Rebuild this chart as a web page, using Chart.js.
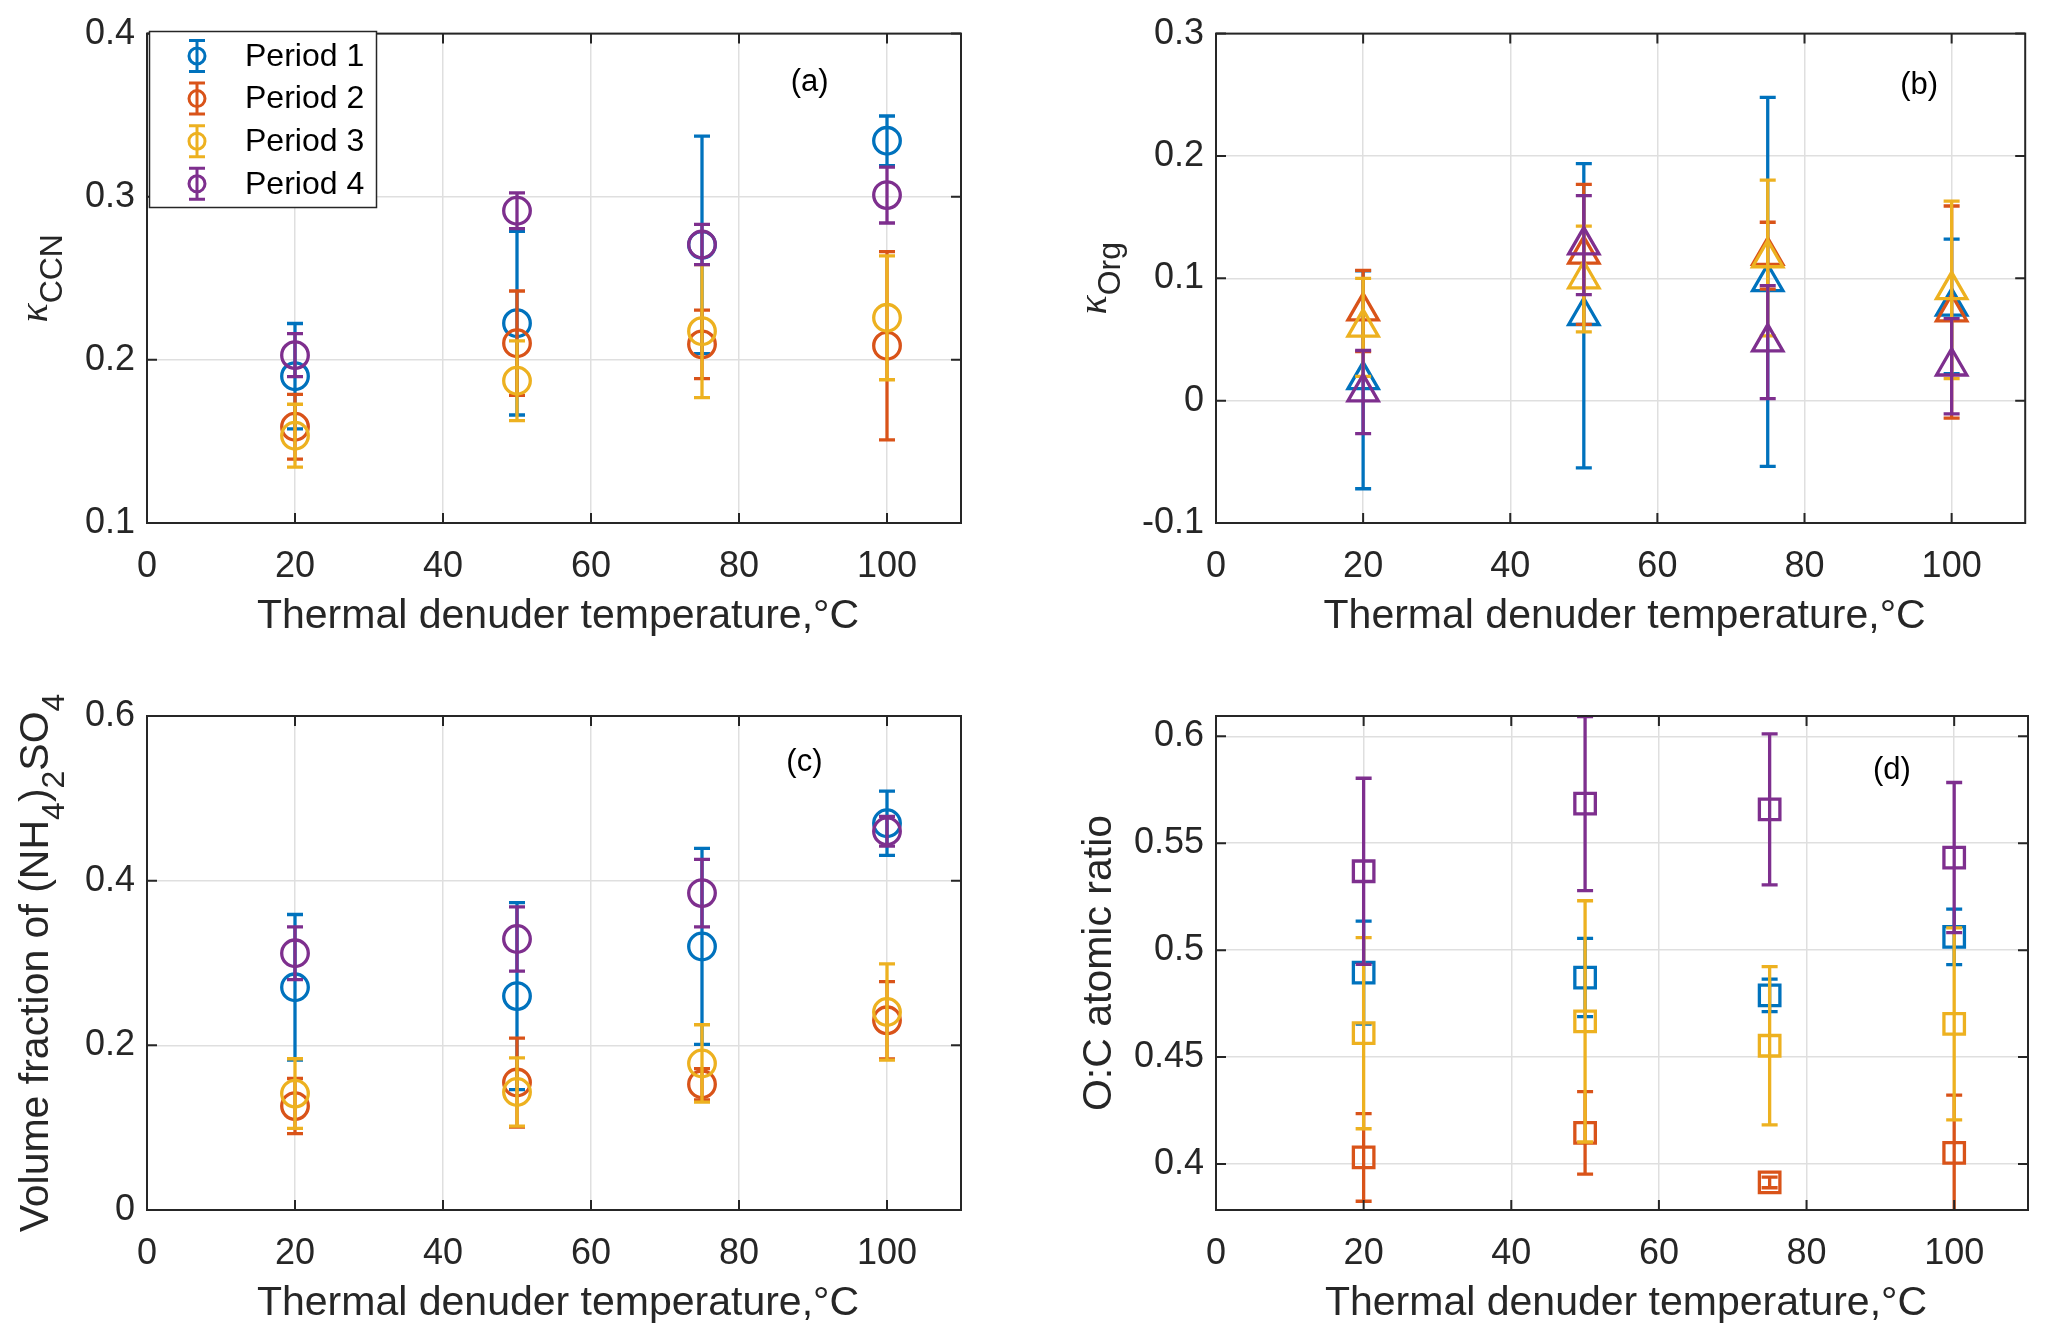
<!DOCTYPE html>
<html><head><meta charset="utf-8">
<script src="https://cdn.jsdelivr.net/npm/chart.js@4.4.1/dist/chart.umd.min.js"></script>
<style>
html,body{margin:0;padding:0;background:#fff;width:2046px;height:1341px;overflow:hidden}
.p{position:absolute}
canvas{display:block}
</style></head><body>
<div class="p" style="left:0;top:0"><canvas id="ca" width="1023" height="670" style="width:1023px;height:670px"></canvas></div>
<div class="p" style="left:1023px;top:0"><canvas id="cb" width="1023" height="670" style="width:1023px;height:670px"></canvas></div>
<div class="p" style="left:0;top:670px"><canvas id="cc" width="1023" height="671" style="width:1023px;height:671px"></canvas></div>
<div class="p" style="left:1023px;top:670px"><canvas id="cd" width="1023" height="671" style="width:1023px;height:671px"></canvas></div>
<script>
// ---------------- DATA ----------------
const temperatures = [20, 50, 75, 100];
const seriesNames = ['Period 1', 'Period 2', 'Period 3', 'Period 4'];
const seriesColors = ['#0072BD', '#D95319', '#EDB120', '#7E2F8E'];
const xTicks = [0, 20, 40, 60, 80, 100];
const xTickLabels = ['0', '20', '40', '60', '80', '100'];

// (a) kappa CCN
const kappaCCN = [
  [0.190, 0.2225, 0.2705, 0.3343],
  [0.159, 0.2102, 0.2095, 0.2087],
  [0.1535, 0.1872, 0.2176, 0.2258],
  [0.2029, 0.2914, 0.2707, 0.3010]
];
const kappaCCNErr = [
  [0.0323, 0.0563, 0.0667, 0.0152],
  [0.0198, 0.0320, 0.0210, 0.0577],
  [0.0193, 0.0245, 0.0408, 0.0380],
  [0.0132, 0.0110, 0.0123, 0.0171]
];
const kappaCCNTicks = [0.1, 0.2, 0.3, 0.4];
const kappaCCNTickLabels = ['0.1', '0.2', '0.3', '0.4'];

// (b) kappa Org
const kappaOrg = [
  [0.0170, 0.0694, 0.0970, 0.0770],
  [0.0732, 0.1196, 0.1185, 0.0724],
  [0.0599, 0.0994, 0.1166, 0.0905],
  [0.0070, 0.1271, 0.0478, 0.0281]
];
const kappaOrgErr = [
  [0.0890, 0.1244, 0.1508, 0.0550],
  [0.0332, 0.0572, 0.0273, 0.0867],
  [0.0401, 0.0432, 0.0636, 0.0725],
  [0.0340, 0.0405, 0.0462, 0.0389]
];
const kappaOrgTicks = [-0.1, 0, 0.1, 0.2, 0.3];
const kappaOrgTickLabels = ['-0.1', '0', '0.1', '0.2', '0.3'];

// (c) volume fraction of ammonium sulfate
const volFracAS = [
  [0.2705, 0.2598, 0.3201, 0.4698],
  [0.1262, 0.1548, 0.1527, 0.2304],
  [0.1414, 0.1433, 0.1780, 0.2405],
  [0.3118, 0.3292, 0.3849, 0.4600]
];
const volFracASErr = [
  [0.0884, 0.1135, 0.1190, 0.0390],
  [0.0335, 0.0540, 0.0190, 0.0470],
  [0.0423, 0.0415, 0.0470, 0.0584],
  [0.0320, 0.0390, 0.0410, 0.0180]
];
const volFracTicks = [0, 0.2, 0.4, 0.6];
const volFracTickLabels = ['0', '0.2', '0.4', '0.6'];

// (d) O:C atomic ratio
const ocRatio = [
  [0.4895, 0.4872, 0.4789, 0.5062],
  [0.4031, 0.4146, 0.3914, 0.4052],
  [0.4612, 0.4667, 0.4553, 0.4655],
  [0.5369, 0.5685, 0.5658, 0.5433]
];
const ocRatioErr = [
  [0.0241, 0.0183, 0.0076, 0.0130],
  [0.0205, 0.0193, 0.0025, 0.0270],
  [0.0447, 0.0564, 0.0370, 0.0449],
  [0.0435, 0.0407, 0.0353, 0.0351]
];
const ocTicks = [0.4, 0.45, 0.5, 0.55, 0.6];
const ocTickLabels = ['0.4', '0.45', '0.5', '0.55', '0.6'];

// ---------------- STYLE ----------------
const SANS = '"Liberation Sans", Arial, Helvetica, sans-serif';
const AXIS_COLOR = '#262626';
const GRID_COLOR = '#dfdfdf';
const LINE_W = 3.3;
const CAP_HALF = 8;
const TITLE_FONT = '41px ' + SANS;
const SUB_FONT = '32px ' + SANS;
const KAPPA_FONT = 'italic 40px "Liberation Serif", "DejaVu Serif", serif';
const X_TITLE = 'Thermal denuder temperature,\u00B0C';

// ---------------- PLUGINS ----------------
const errorBarPlugin = {
  id: 'errbars',
  beforeDatasetDraw(chart, args) {
    const ds = chart.data.datasets[args.index];
    if (!ds.errors) return;
    const ctx = chart.ctx, a = chart.chartArea;
    const xs = chart.scales.x, ys = chart.scales.y;
    ctx.save();
    ctx.beginPath();
    ctx.rect(a.left, a.top, a.right - a.left, a.bottom - a.top);
    ctx.clip();
    ctx.strokeStyle = ds.pointBorderColor;
    ctx.lineWidth = LINE_W;
    ds.data.forEach((p, i) => {
      const e = ds.errors[i];
      const px = xs.getPixelForValue(p.x);
      const yt = ys.getPixelForValue(p.y + e);
      const yb = ys.getPixelForValue(p.y - e);
      ctx.beginPath();
      ctx.moveTo(px, yt); ctx.lineTo(px, yb);
      ctx.moveTo(px - CAP_HALF, yt); ctx.lineTo(px + CAP_HALF, yt);
      ctx.moveTo(px - CAP_HALF, yb); ctx.lineTo(px + CAP_HALF, yb);
      ctx.stroke();
    });
    ctx.restore();
  }
};

function drawRich(ctx, segs, x, y) {
  ctx.save();
  ctx.translate(x, y);
  ctx.rotate(-Math.PI / 2);
  let total = 0;
  const w = segs.map(s => { ctx.font = s.font; const m = ctx.measureText(s.t).width; total += m; return m; });
  let cx = -total / 2;
  ctx.textBaseline = 'alphabetic';
  ctx.textAlign = 'left';
  ctx.fillStyle = AXIS_COLOR;
  segs.forEach((s, i) => { ctx.font = s.font; ctx.fillText(s.t, cx, s.dy || 0); cx += w[i]; });
  ctx.restore();
}

const decorPlugin = {
  id: 'decor',
  afterDatasetsDraw(chart, args, o) {
    const ctx = chart.ctx, a = chart.chartArea;
    const xs = chart.scales.x, ys = chart.scales.y;
    ctx.save();
    ctx.strokeStyle = AXIS_COLOR;
    ctx.lineWidth = 2;
    ctx.strokeRect(a.left, a.top, a.right - a.left, a.bottom - a.top);
    ctx.beginPath();
    xTicks.forEach(v => {
      const px = xs.getPixelForValue(v);
      ctx.moveTo(px, a.bottom); ctx.lineTo(px, a.bottom - 10);
      ctx.moveTo(px, a.top); ctx.lineTo(px, a.top + 10);
    });
    o.yTicks.forEach(v => {
      const py = ys.getPixelForValue(v);
      ctx.moveTo(a.left, py); ctx.lineTo(a.left + 10, py);
      ctx.moveTo(a.right, py); ctx.lineTo(a.right - 10, py);
    });
    ctx.stroke();
    ctx.restore();
  },
  afterDraw(chart, args, o) {
    const ctx = chart.ctx, a = chart.chartArea;
    const xs = chart.scales.x, ys = chart.scales.y;
    ctx.save();
    ctx.font = TITLE_FONT;
    ctx.fillStyle = AXIS_COLOR;
    ctx.textAlign = 'center';
    ctx.textBaseline = 'alphabetic';
    ctx.fillText(X_TITLE, (a.left + a.right) / 2 + 4, a.bottom + 105);
    ctx.restore();
    drawRich(ctx, o.yTitle, o.yTitleX, (a.top + a.bottom) / 2);
    ctx.save();
    ctx.font = '31px ' + SANS;
    ctx.fillStyle = '#000';
    ctx.textAlign = 'left';
    ctx.textBaseline = 'middle';
    ctx.fillText(o.letter, xs.getPixelForValue(o.letterPos[0]), ys.getPixelForValue(o.letterPos[1]));
    ctx.restore();
    if (o.legend) {
      const L = o.legend;
      ctx.save();
      ctx.fillStyle = '#fff';
      ctx.fillRect(L.x, L.y, L.w, L.h);
      ctx.strokeStyle = AXIS_COLOR;
      ctx.lineWidth = 1.5;
      ctx.strokeRect(L.x, L.y, L.w, L.h);
      chart.data.datasets.forEach((ds, i) => {
        const cy = L.firstRow + i * L.rowStep;
        const gx = L.glyphX;
        ctx.strokeStyle = ds.pointBorderColor;
        ctx.lineWidth = 3;
        ctx.beginPath();
        ctx.moveTo(gx, cy - 15.5); ctx.lineTo(gx, cy + 15.5);
        ctx.moveTo(gx - 8, cy - 15.5); ctx.lineTo(gx + 8, cy - 15.5);
        ctx.moveTo(gx - 8, cy + 15.5); ctx.lineTo(gx + 8, cy + 15.5);
        ctx.stroke();
        ctx.beginPath();
        ctx.arc(gx, cy, 8, 0, Math.PI * 2);
        ctx.stroke();
        ctx.font = '32px ' + SANS;
        ctx.fillStyle = '#000';
        ctx.textAlign = 'left';
        ctx.textBaseline = 'middle';
        ctx.fillText(ds.label, L.textX, cy + 1);
      });
      ctx.restore();
    }
  }
};

// ---------------- BUILD ----------------
function makePanel(cfg) {
  const datasets = cfg.values.map((vals, k) => ({
    label: seriesNames[k],
    data: temperatures.map((t, i) => ({ x: t, y: vals[i] })),
    errors: cfg.errors[k],
    showLine: false,
    pointStyle: cfg.marker,
    pointRadius: cfg.radius,
    pointHoverRadius: cfg.radius,
    pointBorderWidth: LINE_W,
    pointHoverBorderWidth: LINE_W,
    pointBorderColor: seriesColors[k],
    pointBackgroundColor: 'rgba(0,0,0,0)',
    borderColor: seriesColors[k],
    backgroundColor: 'rgba(0,0,0,0)',
    order: 4 - k
  }));
  return new Chart(document.getElementById(cfg.canvas), {
    type: 'scatter',
    data: { datasets },
    options: {
      responsive: false,
      devicePixelRatio: 1,
      animation: false,
      events: [],
      layout: { padding: { left: 0, top: cfg.padTop, right: cfg.padRight, bottom: 0 } },
      scales: {
        x: {
          type: 'linear', position: 'bottom', min: 0, max: 110,
          afterBuildTicks: s => { s.ticks = xTicks.map(v => ({ value: v })); },
          afterFit: s => { s.height = cfg.xAxisH; },
          grid: { color: GRID_COLOR, lineWidth: 1.5, drawTicks: false },
          border: { display: false },
          ticks: {
            padding: 22, color: AXIS_COLOR, maxRotation: 0, autoSkip: false,
            font: { family: SANS, size: 36 },
            callback: (v, i) => xTickLabels[i]
          }
        },
        y: {
          type: 'linear', position: 'left', min: cfg.yMin, max: cfg.yMax,
          afterBuildTicks: s => { s.ticks = cfg.yTicks.map(v => ({ value: v })); },
          afterFit: s => { s.width = cfg.yAxisW; },
          grid: { color: GRID_COLOR, lineWidth: 1.5, drawTicks: false },
          border: { display: false },
          ticks: {
            padding: 12, color: AXIS_COLOR, autoSkip: false,
            font: { family: SANS, size: 36 },
            callback: (v, i) => cfg.yTickLabels[i]
          }
        }
      },
      plugins: {
        legend: { display: false },
        tooltip: { enabled: false },
        decor: {
          yTicks: cfg.yTicks, yTitle: cfg.yTitle, yTitleX: cfg.yTitleX,
          letter: cfg.letter, letterPos: cfg.letterPos, legend: cfg.legend || null
        }
      }
    },
    plugins: [errorBarPlugin, decorPlugin]
  });
}

makePanel({
  canvas: 'ca', values: kappaCCN, errors: kappaCCNErr, marker: 'circle', radius: 13.3,
  yMin: 0.1, yMax: 0.4, yTicks: kappaCCNTicks, yTickLabels: kappaCCNTickLabels,
  padTop: 29, padRight: 62, yAxisW: 147, xAxisH: 147,
  yTitle: [{ t: '\u03BA', font: KAPPA_FONT }, { t: 'CCN', font: SUB_FONT, dy: 15 }], yTitleX: 47,
  letter: '(a)', letterPos: [87, 0.370],
  legend: { x: 149.5, y: 31.5, w: 227, h: 176, firstRow: 56, rowStep: 42.6, glyphX: 197, textX: 245 }
});
makePanel({
  canvas: 'cb', values: kappaOrg, errors: kappaOrgErr, marker: 'triangle', radius: 17.5,
  yMin: -0.1, yMax: 0.3, yTicks: kappaOrgTicks, yTickLabels: kappaOrgTickLabels,
  padTop: 29, padRight: 18, yAxisW: 193, xAxisH: 147,
  yTitle: [{ t: '\u03BA', font: KAPPA_FONT }, { t: 'Org', font: SUB_FONT, dy: 14 }], yTitleX: 83,
  letter: '(b)', letterPos: [93, 0.258]
});
makePanel({
  canvas: 'cc', values: volFracAS, errors: volFracASErr, marker: 'circle', radius: 13.3,
  yMin: 0, yMax: 0.6, yTicks: volFracTicks, yTickLabels: volFracTickLabels,
  padTop: 46, padRight: 62, yAxisW: 147, xAxisH: 131,
  yTitle: [
    { t: 'Volume fraction of (NH', font: TITLE_FONT },
    { t: '4', font: SUB_FONT, dy: 16 },
    { t: ')', font: TITLE_FONT },
    { t: '2', font: SUB_FONT, dy: 16 },
    { t: 'SO', font: TITLE_FONT },
    { t: '4', font: SUB_FONT, dy: 16 }
  ], yTitleX: 48,
  letter: '(c)', letterPos: [86.4, 0.544]
});
makePanel({
  canvas: 'cd', values: ocRatio, errors: ocRatioErr, marker: 'rect', radius: 14.5,
  yMin: 0.3785, yMax: 0.6095, yTicks: ocTicks, yTickLabels: ocTickLabels,
  padTop: 46, padRight: 18, yAxisW: 193, xAxisH: 131,
  yTitle: [{ t: 'O:C atomic ratio', font: TITLE_FONT }], yTitleX: 88,
  letter: '(d)', letterPos: [89, 0.584]
});
</script>
</body></html>
